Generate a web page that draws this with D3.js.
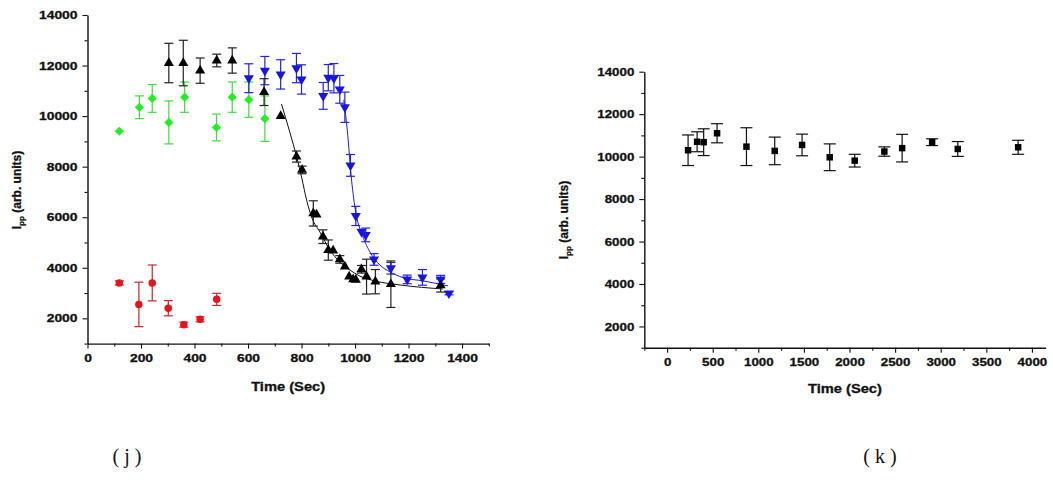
<!DOCTYPE html>
<html>
<head>
<meta charset="utf-8">
<script src="https://cdn.jsdelivr.net/npm/d3@7"></script>
<style>
  body { margin: 0; background: #fff; }
  svg { display: block; }
  text { font-family: "Liberation Sans", Arial, sans-serif; fill: #111; }
  .heavy { stroke: #111; stroke-width: 0.3px; }
</style>
</head>
<body>
<svg id="fig" width="1053" height="495"></svg>
<script>
// ---------- Panel (j): peak-to-peak intensity versus time, four runs ----------
const greenTime = [119, 194, 242, 304, 363, 482, 541, 603, 663];
const greenI    = [9400, 10350, 10700, 9750, 10750, 9550, 10750, 10650, 9900];
const greenErr  = [0, 450, 550, 850, 600, 530, 600, 700, 900];

const redTime = [119, 192, 242, 302, 360, 421, 483];
const redI    = [3400, 2550, 3400, 2400, 1750, 1960, 2750];
const redErr  = [80, 880, 710, 300, 100, 100, 240];

const blackTime = [304, 358, 421, 483, 541, 660, 722, 781, 802, 844, 856, 880, 900, 918, 943, 962,
                   978, 993, 1003, 1024, 1043, 1076, 1134, 1320];
const blackI    = [12100, 12100, 11800, 12200, 12200, 10950, 10000, 8400, 7870, 6150, 6100, 5230,
                   4700, 4680, 4330, 4050, 3650, 3540, 3520, 3940, 3650, 3450, 3350, 3300];
const blackErr  = [780, 900, 500, 250, 500, 530, 0, 220, 150, 500, 0, 270, 400, 0, 150, 0,
                   0, 0, 0, 150, 690, 480, 920, 260];

const blueTime = [603, 663, 722, 781, 800, 881, 900, 921, 943, 962, 983, 1003, 1024, 1040, 1071,
                  1134, 1195, 1252, 1320, 1351];
const blueI    = [11500, 11800, 11650, 11900, 11450, 10800, 11520, 11500, 11060, 10350, 8050, 6050,
                  5430, 5300, 4330, 3980, 3540, 3620, 3540, 2990];
const blueErr  = [570, 560, 580, 580, 580, 530, 520, 580, 550, 600, 430, 380, 0, 270, 230, 230,
                  170, 310, 160, 60];

// fitted decay curves
const blackFitTime = [725, 756, 782, 801, 819, 839, 869, 906, 943, 981, 1018, 1074, 1168, 1328];
const blackFitI    = [10480, 9370, 8380, 7550, 6680, 5970, 5410, 4700, 4230, 3910, 3670, 3480, 3320, 3160];
const blueFitTime  = [958, 971, 987, 1003, 1024, 1055, 1093, 1130, 1180, 1255, 1348];
const blueFitI     = [10640, 9450, 7470, 6170, 5380, 4640, 4110, 3840, 3610, 3480, 3280];

const jXTicks = [0, 200, 400, 600, 800, 1000, 1200, 1400];
const jYTicks = [2000, 4000, 6000, 8000, 10000, 12000, 14000];

// ---------- Panel (k): peak-to-peak intensity over a long run ----------
const kTime = [230, 329, 401, 548, 870, 1180, 1480, 1783, 2057, 2382, 2577, 2906, 3187, 3849];
const kI    = [10300, 10700, 10680, 11100, 10470, 10270, 10550, 9970, 9810, 10240, 10400, 10680, 10360, 10440];
const kErr  = [720, 470, 630, 450, 890, 650, 510, 630, 300, 220, 650, 160, 350, 330];

const kXTicks = [0, 500, 1000, 1500, 2000, 2500, 3000, 3500, 4000];
const kYTicks = [2000, 4000, 6000, 8000, 10000, 12000, 14000];

const panelLabels = ["( j )", "( k )"];
const xTitle = "Time (Sec)";

const svg = d3.select("#fig");

function zip(xs, ys, es) { return xs.map((x, i) => ({ x, y: ys[i], e: es ? es[i] : 0 })); }

function drawAxes(g, x, y, o) {
  const [x0, x1] = x.range();
  const [y0] = y.range();
  // minor ticks
  g.append("g").attr("transform", `translate(0,${y0})`)
    .call(d3.axisBottom(x).tickValues(o.xMinor).tickSize(3).tickSizeOuter(0).tickFormat(""))
    .call(a => a.select(".domain").remove());
  g.append("g").attr("transform", `translate(${x0},0)`)
    .call(d3.axisLeft(y).tickValues(o.yMinor).tickSize(3).tickSizeOuter(0).tickFormat(""))
    .call(a => a.select(".domain").remove());
  // major ticks with labels
  const ax = g.append("g").attr("transform", `translate(0,${y0})`)
    .call(d3.axisBottom(x).tickValues(o.xTicks).tickSize(5).tickSizeOuter(0).tickPadding(6).tickFormat(d3.format("d")));
  const ay = g.append("g").attr("transform", `translate(${x0},0)`)
    .call(d3.axisLeft(y).tickValues(o.yTicks).tickSize(5).tickSizeOuter(0).tickPadding(5).tickFormat(d3.format("d")));
  [ax, ay].forEach(a => {
    a.select(".domain").attr("stroke", "#111").attr("stroke-width", 1.4);
    a.selectAll(".tick text")
      .attr("class", "heavy")
      .attr("fill", "#111")
      .style("font-size", "11px").style("font-weight", "bold")
      .attr("textLength", d => String(d).length * o.digitW)
      .attr("lengthAdjust", "spacingAndGlyphs");
  });
  g.selectAll(".tick line").attr("stroke", "#111").attr("stroke-width", 1.1);
  // axis titles
  g.append("text")
    .attr("class", "heavy")
    .attr("x", (x0 + x1) / 2).attr("y", o.xTitleY)
    .attr("text-anchor", "middle")
    .style("font-size", "12.5px").style("font-weight", "bold")
    .attr("textLength", 74).attr("lengthAdjust", "spacingAndGlyphs")
    .text(xTitle);
  const yt = g.append("text")
    .attr("class", "heavy")
    .attr("transform", `translate(${o.yTitleX},${o.yTitleY}) rotate(-90)`)
    .attr("text-anchor", "middle")
    .style("font-size", "12px").style("font-weight", "bold");
  yt.append("tspan").text("I");
  yt.append("tspan").attr("dy", 3).style("font-size", "8px").text("pp");
  yt.append("tspan").attr("dy", -3).text(" (arb. units)");
}

function errorBars(g, x, y, pts, color, cap) {
  const e = pts.filter(p => p.e > 0);
  g.selectAll(null).data(e).join("line")
    .attr("x1", d => x(d.x)).attr("x2", d => x(d.x))
    .attr("y1", d => y(d.y + d.e)).attr("y2", d => y(d.y - d.e))
    .attr("stroke", color).attr("stroke-width", 1.2);
  [1, -1].forEach(s => {
    g.selectAll(null).data(e).join("line")
      .attr("x1", d => x(d.x) - cap / 2).attr("x2", d => x(d.x) + cap / 2)
      .attr("y1", d => y(d.y + s * d.e)).attr("y2", d => y(d.y + s * d.e))
      .attr("stroke", color).attr("stroke-width", 1.2);
  });
}

function markers(g, x, y, pts, type, size, color, rot) {
  g.selectAll(null).data(pts).join("path")
    .attr("d", d3.symbol().type(type).size(size))
    .attr("transform", d => `translate(${x(d.x)},${y(d.y)}) rotate(${rot || 0})`)
    .attr("fill", color);
}

// ---------- panel (j) ----------
{
  const x = d3.scaleLinear().domain([0, 1500]).range([87.5, 488.8]);
  const y = d3.scaleLinear().domain([1000, 14000]).range([343.6, 15]);
  const g = svg.append("g");
  drawAxes(g, x, y, {
    xTicks: jXTicks, yTicks: jYTicks,
    xMinor: d3.range(100, 1600, 200), yMinor: d3.range(1000, 14000, 2000),
    digitW: 7.7, xTitleY: 391, yTitleX: 21, yTitleY: 190
  });

  const line = d3.line().x(d => x(d.x)).y(d => y(d.y)).curve(d3.curveMonotoneX);
  g.append("path").datum(zip(blackFitTime, blackFitI)).attr("d", line)
    .attr("fill", "none").attr("stroke", "#111").attr("stroke-width", 1);
  g.append("path").datum(zip(blueFitTime, blueFitI)).attr("d", line)
    .attr("fill", "none").attr("stroke", "#1f1fd0").attr("stroke-width", 1);

  const green = zip(greenTime, greenI, greenErr);
  const red = zip(redTime, redI, redErr);
  const black = zip(blackTime, blackI, blackErr);
  const blue = zip(blueTime, blueI, blueErr);

  errorBars(g, x, y, green, "#45d845", 9);
  errorBars(g, x, y, red, "#c8262c", 9);
  errorBars(g, x, y, blue, "#2424d0", 9);
  errorBars(g, x, y, black, "#222", 9);

  markers(g, x, y, green, d3.symbolSquare, 42, "#22ee22", 45);
  markers(g, x, y, red, d3.symbolCircle, 44, "#e6141c");
  markers(g, x, y, blue, d3.symbolTriangle, 44, "#1616e0", 180);
  markers(g, x, y, black, d3.symbolTriangle, 44, "#000");
}

// ---------- panel (k) ----------
{
  const x = d3.scaleLinear().domain([-250, 4150]).range([644.3, 1045.6]);
  const y = d3.scaleLinear().domain([1000, 14000]).range([347.7, 71.7]);
  const g = svg.append("g");
  drawAxes(g, x, y, {
    xTicks: kXTicks, yTicks: kYTicks,
    xMinor: d3.range(-250, 4150, 500), yMinor: d3.range(1000, 14000, 2000),
    digitW: 7.4, xTitleY: 393, yTitleX: 568, yTitleY: 220
  });
  const pts = zip(kTime, kI, kErr);
  errorBars(g, x, y, pts, "#111", 12);
  markers(g, x, y, pts, d3.symbolSquare, 42, "#000");
}

// panel captions
svg.selectAll(null).data(panelLabels).join("text")
  .attr("x", (d, i) => i === 0 ? 127 : 880)
  .attr("y", 463)
  .attr("text-anchor", "middle")
  .style("font-family", "'Liberation Serif', 'Times New Roman', serif")
  .style("font-size", "20px")
  .text(d => d);
</script>
</body>
</html>
